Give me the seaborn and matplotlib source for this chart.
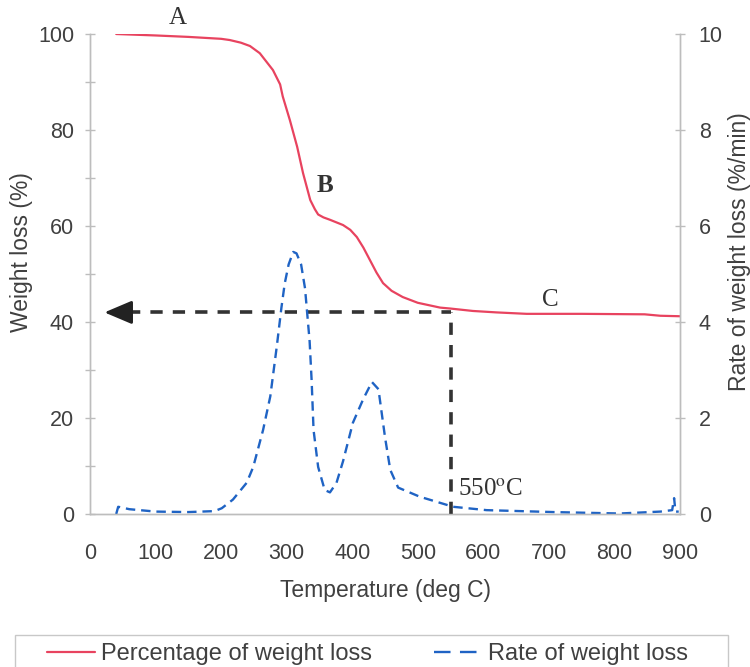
import numpy as np
import pandas as pd
import seaborn as sns
import matplotlib.pyplot as plt
from matplotlib.patches import Rectangle

# TGA curve - weight left (%) vs temperature
temp_w = [40, 100, 150, 200, 213, 230, 244, 259, 267, 279, 290, 294, 305, 316, 325,
          336, 343, 348, 356, 366, 386, 397, 407, 417, 427, 437, 447, 460, 477, 500,
          534, 550, 584, 620, 666, 750, 846, 870, 900]
weight = [100, 99.7, 99.4, 99.0, 98.75, 98.2, 97.5, 96.0, 94.6, 92.5, 89.5, 87.0, 82.0, 76.5, 71.0,
          65.4, 63.5, 62.4, 61.8, 61.3, 60.2, 59.2, 57.7, 55.5, 52.9, 50.3, 48.1, 46.5, 45.2, 44.0,
          43.0, 42.8, 42.3, 42.0, 41.7, 41.7, 41.6, 41.3, 41.2]

# DTG curve - rate of weight loss (%/min)
temp_r = [40, 43, 60, 100, 150, 190, 201, 218, 239, 249, 264, 275, 285, 292, 297, 303, 310,
          315, 322, 328, 335, 338, 341, 348, 358, 366, 376, 386, 401, 417, 430, 440, 450, 458,
          470, 503, 554, 605, 707, 808, 870, 888, 891, 893, 898]
rate = [0.0, 0.15, 0.1, 0.05, 0.04, 0.06, 0.12, 0.3, 0.65, 0.98, 1.75, 2.45, 3.5, 4.3, 4.8, 5.2, 5.46,
        5.43, 5.2, 4.7, 3.6, 2.8, 1.75, 0.98, 0.5, 0.45, 0.65, 1.1, 1.9, 2.4, 2.75, 2.6, 1.6, 0.92,
        0.55, 0.36, 0.15, 0.08, 0.04, 0.01, 0.05, 0.08, 0.33, 0.05, 0.05]

cut_temp = 550
cut_weight = 42

red = '#e8435f'
blue = '#1f63c4'
grey_txt = '#404040'
grey_ax = '#bdbdbd'

sns.set_style('white')
plt.rcParams['font.family'] = ['Liberation Sans', 'DejaVu Sans']
plt.rcParams['mathtext.fontset'] = 'stix'

df_w = pd.DataFrame({'T': temp_w, 'W': weight})
df_r = pd.DataFrame({'T': temp_r, 'R': rate})

fig = plt.figure(figsize=(7.5, 6.67), dpi=100)
ax = fig.add_axes([0.12, 0.2294, 0.7867, 0.7196])
ax2 = ax.twinx()

sns.lineplot(data=df_w, x='T', y='W', ax=ax, color=red, lw=1.6, estimator=None,
             label='Percentage of weight loss', legend=False)
sns.lineplot(data=df_r, x='T', y='R', ax=ax2, color=blue, lw=1.7, estimator=None,
             linestyle=(0, (4, 2.5)), label='Rate of weight loss', legend=False)

# 550 C marker lines + arrow
ax.plot([cut_temp, cut_temp], [0, cut_weight], color='#333333', lw=2.6,
        linestyle=(0, (3.4, 2.8)), zorder=5)
ax.plot([58, cut_temp], [cut_weight, cut_weight], color='#333333', lw=2.6,
        linestyle=(0, (3.4, 2.8)), zorder=5)
ax.annotate('', xy=(22, cut_weight), xytext=(60, cut_weight),
            arrowprops=dict(arrowstyle='-|>,head_length=0.85,head_width=0.36',
                            color='#222222', lw=2.0, mutation_scale=20, shrinkA=0, shrinkB=0),
            zorder=6)

serif = ['Liberation Serif', 'DejaVu Serif']
ax.text(134, 103.3, 'A', ha='center', va='center', fontsize=18, family=serif, color='#333333')
ax.text(358, 68.5, 'B', ha='center', va='center', fontsize=18, family=serif,
        fontweight='bold', color='#333333')
ax.text(702, 44.6, 'C', ha='center', va='center', fontsize=18, family=serif, color='#333333')
ax.text(562, 5.0, '550$^{\\mathrm{o}}$C', ha='left', va='center', fontsize=18,
        family=serif, color='#333333')

ax.set_xlim(0, 900)
ax.set_ylim(0, 100)
ax2.set_ylim(0, 10)
ax.set_xticks(range(0, 901, 100))
ax.set_yticks(range(0, 101, 20))
ax.set_yticks(range(10, 100, 20), minor=True)
ax2.set_yticks(range(0, 11, 2))

ax.set_xlabel('Temperature (deg C)', fontsize=16.5, color=grey_txt, labelpad=11)
ax.set_ylabel('Weight loss (%)', fontsize=16.5, color=grey_txt)
ax2.set_ylabel('Rate of weight loss (%/min)', fontsize=16.5, color=grey_txt)
ax.yaxis.set_label_coords(-0.097, 0.546)
ax2.yaxis.set_label_coords(1.081, 0.546)

for a in (ax, ax2):
    a.spines['top'].set_visible(False)
    for s in ('left', 'right', 'bottom'):
        a.spines[s].set_color(grey_ax)
        a.spines[s].set_linewidth(1.0)

ax.tick_params(axis='x', direction='out', length=5, width=1, color=grey_ax,
               labelsize=15.5, labelcolor=grey_txt, pad=16)
ax.tick_params(axis='y', which='both', direction='inout', length=7, width=1, color=grey_ax,
               labelsize=15.5, labelcolor=grey_txt, pad=8)
ax2.tick_params(axis='y', direction='inout', length=7, width=1, color=grey_ax,
                labelsize=15.5, labelcolor=grey_txt, pad=10)

# legend box at the bottom (frame drawn separately, it runs off the image)
h1, l1 = ax.get_legend_handles_labels()
h2, l2 = ax2.get_legend_handles_labels()
leg = fig.legend(h1 + h2, l1 + l2, loc='center left', bbox_to_anchor=(47 / 750, 0.019),
                 ncol=2, fontsize=17, frameon=False, handlelength=2.05,
                 handletextpad=0.25, columnspacing=2.6, borderpad=0, borderaxespad=0)
leg.legend_handles[1].set_linestyle((0, (7.0, 4.0)))
for t in leg.get_texts():
    t.set_color(grey_txt)
fig.add_artist(Rectangle((15 / 750, -0.02), (728 - 15) / 750, 0.02 + 1 - 635 / 667,
                         transform=fig.transFigure, fill=False, edgecolor='#c8c8c8', lw=1.0))

fig.savefig('out.png', dpi=100)
